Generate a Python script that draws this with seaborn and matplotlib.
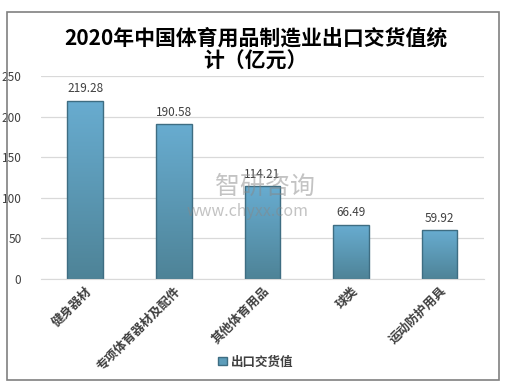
import matplotlib
matplotlib.use("Agg")
import matplotlib.pyplot as plt
import seaborn as sns
import numpy as np
import pandas as pd
from matplotlib.patches import Rectangle, Patch
from matplotlib.colors import LinearSegmentedColormap

categories = ['健身器材', '专项体育器材及配件', '其他体育用品', '球类', '运动防护用具']
values = [219.28, 190.58, 114.21, 66.49, 59.92]
series_name = '出口交货值'

sns.set_style("white")
plt.rcParams['font.family'] = ['Noto Sans CJK SC', 'DejaVu Sans']

df = pd.DataFrame({'cat': categories, 'val': values})

fig = plt.figure(figsize=(5.11, 3.9), dpi=100)
ax = fig.add_axes([0.08, 0.285, 0.867, 0.52])

sns.barplot(data=df, x='cat', y='val', color='#5d9dba', width=0.4,
            edgecolor='#3e6d82', linewidth=1, saturation=1, ax=ax)

# vertical gradient fill on each bar
cmap = LinearSegmentedColormap.from_list('bar', ['#4e8397', '#5b98b4', '#68acd0'])
grad = np.linspace(0, 1, 256).reshape(-1, 1)
for p in ax.patches:
    x0, y0 = p.get_x(), p.get_y()
    w, h = p.get_width(), p.get_height()
    im = ax.imshow(grad, cmap=cmap, aspect='auto', origin='lower',
                   extent=[x0, x0 + w, y0, y0 + h], zorder=p.get_zorder())
    im.set_clip_path(p)
    p.set_facecolor('none')
    p.set_zorder(p.get_zorder() + 0.1)
ax.set_ylim(0, 250)
ax.set_xlim(-0.5, len(categories) - 0.5)

ax.set_yticks([0, 50, 100, 150, 200, 250])
ax.yaxis.grid(True, color='#d9d9d9', linewidth=0.9)
ax.set_axisbelow(True)
for s in ['top', 'right', 'left']:
    ax.spines[s].set_visible(False)
ax.spines['bottom'].set_color('#d9d9d9')
ax.set_xlabel('')
ax.set_ylabel('')
ax.tick_params(axis='y', length=0, labelsize=8.5, labelcolor='#404040', pad=14)
ax.tick_params(axis='x', length=0, pad=4)
ax.set_xticks(range(len(categories)))
ax.set_xticklabels(categories, rotation=45, ha='right', rotation_mode='anchor',
                   fontsize=9, fontweight='bold', color='#404040')

for i, v in enumerate(values):
    ax.text(i, v + 7, f'{v:.2f}', ha='center', va='bottom', fontsize=8.5, color='#404040')

fig.text(0.5, 0.903, '2020年中国体育用品制造业出口交货值统', ha='center', va='center',
         fontsize=15, fontweight='bold', color='black')
fig.text(0.5, 0.843, '计（亿元）', ha='center', va='center',
         fontsize=15, fontweight='bold', color='black')

# watermark
fig.text(0.42, 0.52, '智研咨询', fontsize=18, color='#888888', alpha=0.5, va='center')
fig.text(0.365, 0.457, 'www.chyxx.com', fontsize=11.5, color='#888888', alpha=0.5, va='center')

leg = fig.legend(handles=[Patch(facecolor='#5d9dba', edgecolor='#3e6d82', label=series_name)],
                 loc='center', bbox_to_anchor=(0.5, 0.072), frameon=False,
                 handlelength=0.7, handleheight=0.7, handletextpad=0.3,
                 prop={'size': 9, 'weight': 'bold'})
for t in leg.get_texts():
    t.set_color('#404040')

fig.patches.append(Rectangle((0.0137, 0.0256), 0.9628, 0.9434, transform=fig.transFigure,
                             fill=False, edgecolor='#808080', linewidth=1.2))

fig.savefig('out.png', dpi=100)
